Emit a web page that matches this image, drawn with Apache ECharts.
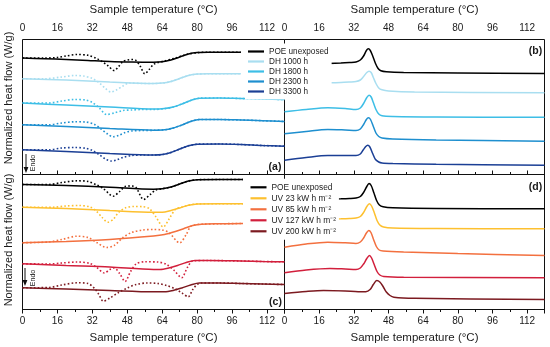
<!DOCTYPE html>
<html><head><meta charset="utf-8">
<script src="https://cdn.jsdelivr.net/npm/echarts@6/dist/echarts.min.js"></script>
<style>html,body{margin:0;padding:0;background:#fff}#c{width:550px;height:347px}</style>
</head><body><div id="c"></div>
<script>
// ---- axis / labels ----
const tempMin = 0, tempMax = 120, tempStep = 16;
const xTitle = 'Sample temperature (°C)';
const yTitle = 'Normalized heat flow (W/g)';
const dhNames = ['POE unexposed', 'DH 1000 h', 'DH 1800 h', 'DH 2300 h', 'DH 3300 h'];
const uvNames = ['POE unexposed', 'UV 23 kW h m⁻²', 'UV 85 kW h m⁻²', 'UV 127 kW h m⁻²', 'UV 200 kW h m⁻²'];
const panelLabels = ['(a)', '(b)', '(c)', '(d)'];

// ---- panel (a): heating, damp heat (solid / dotted), offset heat flow (a.u.) ----
const aPoeSolid = [[0,116.5],[10,115.8],[20,115],[30,114],[40,113],[50,112.5],[60,112.3],[64,112.7],[68,114.5],[72,117.5],[76,120.5],[80,122],[85,122.3],[100,122.3]];
const aPoeDot = [[0,116.5],[10,116.5],[16,117],[20,118.5],[25,120],[30,119.2],[34,116],[36,113.5],[39,109],[42,104],[44,108],[46,113],[48,114.5],[50,115],[52,114],[54,108],[56,100.7],[58,105],[60,110],[62,112],[65,113.5],[70,116.5],[75,120],[80,121.8],[85,122.3],[100,122.3]];
const aDh1000Solid = [[0,95.7],[20,94.5],[40,92.5],[60,91],[64,91.4],[68,93],[72,96],[76,99],[80,100.4],[85,100.7],[100,100.7]];
const aDh1000Dot = [[0,95.7],[10,95.7],[18,97.5],[24,99],[28,98.5],[32,96],[35,92],[38,86],[40.5,82.5],[43,84.5],[46,88.5],[49,91.5],[55,91],[60,91],[64,91.4],[68,93],[72,96],[76,99],[80,100.4],[85,100.7],[100,100.7]];
const aDh1800Solid = [[0,71.5],[20,69.5],[40,67.5],[60,65.5],[65,66],[69,67.5],[73,70.5],[77,74],[81,76.3],[90,76.5],[100,76],[110,75.5],[120,75]];
const aDh1800Dot = [[0,71.5],[12,71.5],[18,73.5],[24,75],[29,74.5],[32,72],[35,67],[38.5,60],[42,61.5],[46,64],[50,64.5],[55,65],[60,65],[65,65.8],[69,67.5],[73,70.5],[77,74],[81,76.3],[90,76.5],[100,76],[110,75.5],[120,75]];
const aDh2300Solid = [[0,49.7],[20,48],[40,46],[60,44.3],[65,44.7],[69,46.5],[73,49.5],[77,53],[81,55],[90,55],[100,54.5],[110,53.8],[120,53]];
const aDh2300Dot = [[0,49.7],[12,49.7],[18,51.5],[24,52.7],[29,52.5],[33,50],[36,45.5],[39,40.5],[41.5,37.7],[44,39],[47,42],[50,43.5],[55,44],[60,44.2],[65,44.7],[69,46.5],[73,49.5],[77,53],[81,55],[90,55],[100,54.5],[110,53.8],[120,53]];
const aDh3300Solid = [[0,24.7],[20,23],[40,21],[60,19.5],[64,20],[68,22],[72,25.5],[76,28.7],[80,30.3],[90,30.5],[100,30],[110,29],[120,28.3]];
const aDh3300Dot = [[0,24.7],[12,24.7],[18,26.5],[24,27],[29,26.2],[32,24],[35,20],[38,15.5],[40.5,13.5],[43,14.5],[46,17],[50,19],[55,19.5],[60,19.5],[64,20],[68,22],[72,25.5],[76,28.7],[80,30.3],[90,30.5],[100,30],[110,29],[120,28.3]];

// ---- panel (b): cooling, damp heat ----
const bPoe = [[20,111],[26,111.5],[30,112],[33,112.5],[35,114.5],[36.5,118.5],[37.8,124],[38.7,125.7],[39.6,124],[40.8,118],[42,111],[43.2,106],[44.5,103.7],[47,102.7],[55,102],[80,101.5],[120,101]];
const bDh1000 = [[20,91.7],[26,92],[30,92.5],[33,93],[35,94.5],[36.5,98],[38,102],[39,103.3],[40,102],[41,97],[42.2,91],[43.5,86.5],[45,84.7],[48,83.5],[60,82.5],[120,81.7]];
const bDh1800 = [[0,62.7],[10,65],[20,66.7],[28,66],[33,65],[35,66.5],[36.5,71],[38,77],[39,79.3],[40,77.5],[41,72],[42.2,65],[43.5,60.5],[45,58.7],[50,58],[70,57.5],[120,57.3]];
const bDh2300 = [[0,40.7],[10,43],[20,45],[28,44.5],[33,44],[35,45.5],[36.5,50],[37.8,55],[38.7,56.7],[39.7,55],[41,48],[42.2,41.5],[43.5,38],[45,36.5],[50,35.5],[70,34.5],[120,33.3]];
const bDh3300 = [[0,14.3],[10,17],[20,19],[28,19],[33,19],[35,20.5],[36.3,24.5],[37.5,28],[38.4,29.3],[39.4,27.5],[40.7,21],[42,15],[43.5,12.5],[45,11.5],[50,11],[70,10.3],[120,9.3]];

// ---- panel (c): heating, UV ----
const cPoeSolid = [[0,125],[20,124],[40,122.3],[60,120.3],[64,120.7],[68,122.5],[72,125.5],[76,128.5],[80,129.8],[90,130],[101,130]];
const cPoeDot = [[0,125],[12,125],[18,127],[25,128.7],[30,128],[34,124.5],[37,121],[41.5,113.3],[44.5,118],[47,123],[50,123.5],[52,122],[55.5,110],[58.5,115],[61,119.5],[64,120.7],[68,122.5],[72,125.5],[76,128.5],[80,129.8],[90,130],[101,130]];
const cUv23Solid = [[0,102.3],[20,101],[40,99],[60,97.2],[64,97.2],[68,99],[72,101.5],[76,104.3],[80,105.6],[90,105.8],[101,105.8]];
const cUv23Dot = [[0,102.3],[14,102.3],[20,103.5],[26,104],[31,102.5],[34,98],[36.5,92],[39,87.3],[41.5,90],[44,97],[47,101.5],[51,103],[55,102.8],[58,101],[61,93],[64.5,82.5],[67,90],[70,100],[73,102.5],[76,104.3],[80,105.6],[90,105.8],[101,105.8]];
const cUv85Solid = [[0,66.8],[20,68],[40,70],[60,73.5],[65,75],[70,78],[74,81],[78,84],[82,85.3],[90,85.7],[101,86]];
const cUv85Dot = [[0,66.8],[12,67.5],[18,70],[25,73.3],[30,72],[34,67],[38.5,62],[42,64],[46,72],[50,77],[55,79.5],[60,80],[64,79.5],[67,77],[72,66.7],[75,75],[77,83],[80,85],[82,85.3],[90,85.7],[101,86]];
const cUv127Solid = [[0,45.7],[20,44],[40,42.5],[60,40],[63,40],[67,41.5],[71,44],[75,47],[79,49],[85,49],[100,48.5],[110,48],[120,47.7]];
const cUv127Dot = [[0,45.7],[12,45.5],[18,46.5],[25,47.5],[31,46],[34,42],[37.5,36.5],[40,40],[42,41.5],[44.5,36],[47,28],[49.5,38],[52,45.5],[56,47.7],[62,47.5],[66,45],[69.5,39],[72.9,31.7],[75.5,42],[78,48.5],[85,49],[100,48.5],[110,48],[120,47.7]];
const cUv200Solid = [[0,21.7],[20,20.5],[40,19],[60,17.7],[65,17.7],[69,19],[73,21.5],[77,24.5],[81,26.5],[90,26.5],[100,26],[110,25.5],[120,25]];
const cUv200Dot = [[0,21.7],[12,22],[18,24.5],[25,26.7],[30,26],[33,21],[35,15],[37,8.3],[40,11.5],[44,17],[48,21.5],[52,25],[57,26.5],[62,26],[66,24],[70,20.5],[73,16.5],[75.9,12.7],[78,20],[80,25],[82,26.5],[90,26.5],[100,26],[110,25.5],[120,25]];

// ---- panel (d): cooling, UV ----
const dPoe = [[20,110.5],[26,110.7],[30,111],[33,111.5],[35,113],[36.5,117],[38,123],[39,126],[40,124],[41.2,117],[42.5,109],[43.8,104.5],[45.5,102.7],[50,101.7],[70,101],[120,100.7]];
const dUv23 = [[20,90.5],[26,90.7],[30,91],[33,91.5],[35,93],[36.5,97],[38,103],[39.2,105.7],[40.2,103.5],[41.4,97],[42.7,89],[44,84.5],[45.7,82.5],[50,81.5],[70,81],[120,80.7]];
const dUv85 = [[0,62.3],[10,65.5],[20,67.3],[28,66.7],[33,66],[35,67.5],[36.5,71.5],[37.8,76.5],[38.9,79],[39.9,77],[41.1,70],[42.4,63],[43.7,59.5],[45.5,58.5],[55,57.5],[80,56],[120,54]];
const dUv127 = [[0,36.7],[10,39.5],[21,41],[28,40.5],[33,40],[35,41.5],[36.5,45.5],[38,51],[39.2,54],[40.2,51.5],[41.4,45],[42.7,38],[44,34.5],[45.8,33],[55,32.2],[120,31.7]];
const dUv200 = [[0,16],[10,18],[18,19],[28,18.5],[34,17.7],[37.5,17.8],[39.5,20],[41,25],[42.6,29],[44,27.5],[45.5,23],[47,17.5],[48.7,14],[50.5,12.3],[60,11.2],[120,10]];

// ---- styling ----
const FONT = '"Liberation Sans", Arial, Helvetica, sans-serif';
const TXT = '#1a1a1a';
const dhColors = ['#000000', '#a9def0', '#3dbee6', '#1e8fcf', '#1b3f95'];
const uvColors = ['#000000', '#fdc02f', '#f3703f', '#d21f3c', '#7c1a20'];

function mkSeries(name, data, color, dotted, idx) {
  return {
    type: 'line', name: name, data: data, xAxisIndex: idx, yAxisIndex: idx,
    showSymbol: false, smooth: 0.3, animation: false, silent: true,
    itemStyle: { color: color },
    lineStyle: dotted ? { color: color, width: 1.6, type: [1.6, 2.2], cap: 'butt' }
                      : { color: color, width: 1.5 },
    z: dotted ? 3 : 2
  };
}

const series = [];
[aPoeSolid, aDh1000Solid, aDh1800Solid, aDh2300Solid, aDh3300Solid].forEach((d, i) => series.push(mkSeries(dhNames[i], d, dhColors[i], false, 0)));
[aPoeDot, aDh1000Dot, aDh1800Dot, aDh2300Dot, aDh3300Dot].forEach((d, i) => series.push(mkSeries(dhNames[i], d, dhColors[i], true, 0)));
[bPoe, bDh1000, bDh1800, bDh2300, bDh3300].forEach((d, i) => series.push(mkSeries(dhNames[i], d, dhColors[i], false, 1)));
[cPoeSolid, cUv23Solid, cUv85Solid, cUv127Solid, cUv200Solid].forEach((d, i) => series.push(mkSeries(uvNames[i], d, uvColors[i], false, 2)));
[cPoeDot, cUv23Dot, cUv85Dot, cUv127Dot, cUv200Dot].forEach((d, i) => series.push(mkSeries(uvNames[i], d, uvColors[i], true, 2)));
[dPoe, dUv23, dUv85, dUv127, dUv200].forEach((d, i) => series.push(mkSeries(uvNames[i], d, uvColors[i], false, 3)));

const grids = [
  { left: 22.5, top: 39.5, width: 262, height: 135 },
  { left: 284.5, top: 39.5, width: 260, height: 135 },
  { left: 22.5, top: 174.5, width: 262, height: 135 },
  { left: 284.5, top: 174.5, width: 260, height: 135 }
].map(g => Object.assign(g, { show: true, borderColor: '#111', borderWidth: 1, backgroundColor: 'transparent', containLabel: false }));

function mkX(i, pos) {
  return {
    type: 'value', gridIndex: i, position: pos, min: tempMin, max: tempMax, interval: tempStep,
    axisLine: { show: true, lineStyle: { color: '#111', width: 1 } },
    axisTick: { show: true, inside: false, length: 4, lineStyle: { color: '#111' } },
    minorTick: { show: true, splitNumber: 2, length: 2.5, lineStyle: { color: '#111' } },
    splitLine: { show: false }, minorSplitLine: { show: false },
    axisLabel: { show: true, fontSize: 10, color: TXT, fontFamily: FONT, margin: pos === 'top' ? 6 : 7, showMaxLabel: false },
    name: xTitle, nameLocation: 'middle', nameGap: pos === 'top' ? 24 : 22,
    nameTextStyle: { fontSize: 11.5, color: TXT, fontFamily: FONT }
  };
}
function mkY(i) {
  return { type: 'value', gridIndex: i, min: 0, max: 135, show: false };
}

const legendBase = {
  orient: 'vertical', icon: 'rect', itemWidth: 16, itemGap: 0,
  backgroundColor: '#ffffff', borderWidth: 0, selectedMode: false
};
const legends = [
  Object.assign({}, legendBase, { left: 245, top: 43.5, padding: [3, 3, 3, 3], itemHeight: 2.2, data: dhNames,
    textStyle: { fontSize: 8.2, color: '#222', fontFamily: FONT, lineHeight: 10 } }),
  Object.assign({}, legendBase, { left: 247.5, top: 178.8, padding: [3, 3, 3, 3], itemHeight: 2.2, data: uvNames,
    textStyle: { fontSize: 8.4, color: '#222', fontFamily: FONT, lineHeight: 11 } })
];

function txt(x, y, s, size, opts) {
  return Object.assign({ type: 'text', x: x, y: y, z: 10, silent: true,
    style: Object.assign({ text: s, fontSize: size, fill: TXT, fontFamily: FONT, align: 'center', verticalAlign: 'middle' }, (opts && opts.style) || {}) },
    opts && opts.rotation !== undefined ? { rotation: opts.rotation } : {});
}
const graphic = [
  txt(9, 98, yTitle, 11, { rotation: Math.PI / 2 }),
  txt(9, 240, yTitle, 11, { rotation: Math.PI / 2 }),
  { type: 'line', z: 10, silent: true, shape: { x1: 26, y1: 154, x2: 26, y2: 168 }, style: { stroke: '#111', lineWidth: 1 } },
  { type: 'polygon', z: 10, silent: true, shape: { points: [[23.6, 167], [28.4, 167], [26, 173]] }, style: { fill: '#111' } },
  txt(33, 163, 'Endo', 7, { rotation: Math.PI / 2 }),
  { type: 'line', z: 10, silent: true, shape: { x1: 25, y1: 268, x2: 25, y2: 281 }, style: { stroke: '#111', lineWidth: 1 } },
  { type: 'polygon', z: 10, silent: true, shape: { points: [[22.6, 280], [27.4, 280], [25, 286]] }, style: { fill: '#111' } },
  txt(33, 278, 'Endo', 7, { rotation: Math.PI / 2 }),
  txt(275, 167.5, panelLabels[0], 10.5, { style: { fontWeight: 'bold' } }),
  txt(535.5, 51, panelLabels[1], 10.5, { style: { fontWeight: 'bold' } }),
  txt(275.5, 302.5, panelLabels[2], 10.5, { style: { fontWeight: 'bold' } }),
  txt(535.5, 187, panelLabels[3], 10.5, { style: { fontWeight: 'bold' } })
];

const chart = echarts.init(document.getElementById('c'), null, { renderer: 'canvas' });
chart.setOption({
  animation: false,
  backgroundColor: '#ffffff',
  textStyle: { fontFamily: FONT },
  grid: grids,
  xAxis: [mkX(0, 'top'), mkX(1, 'top'), mkX(2, 'bottom'), mkX(3, 'bottom')],
  yAxis: [mkY(0), mkY(1), mkY(2), mkY(3)],
  legend: legends,
  graphic: graphic,
  series: series
});
</script></body></html>
